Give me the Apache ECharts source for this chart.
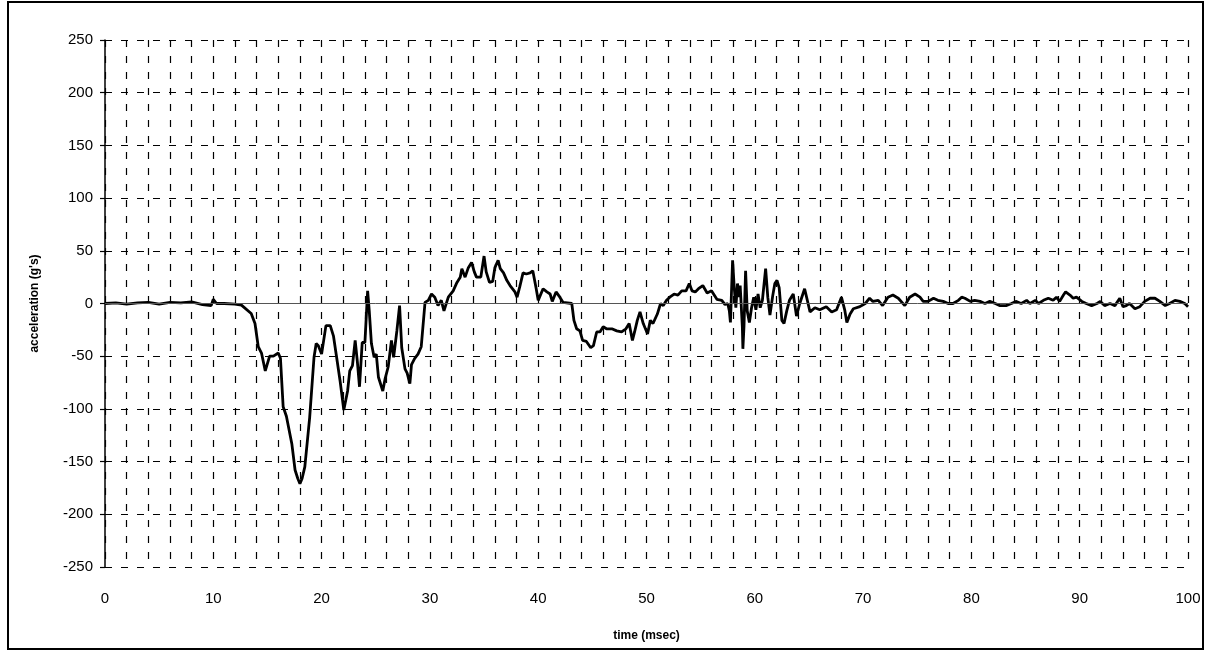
<!DOCTYPE html>
<html>
<head>
<meta charset="utf-8">
<title>acceleration vs time</title>
<script src="https://cdn.jsdelivr.net/npm/echarts@6/dist/echarts.min.js"></script>
<style>
  html, body { margin: 0; padding: 0; background: #fff; }
  #chart { width: 1210px; height: 653px; }
</style>
</head>
<body>
<div id="chart"></div>
<script>
// time axis of the trace (msec)
var timeMs = [
  0, 1, 2, 3, 4, 5, 6, 7, 8, 9,
  9.8, 10, 10.3, 11, 12, 12.6, 13.5, 13.85, 14.15, 14.45,
  14.8, 15.2, 15.55, 16.0, 16.2, 16.45, 16.75, 17.25, 17.55, 17.8,
  18.0, 18.2, 18.45, 18.9, 19.3, 19.5, 19.7, 20.0, 20.4, 20.8,
  21.1, 21.4, 21.7, 22.05, 22.4, 22.6, 22.85, 23.1, 23.3, 23.5,
  23.75, 24.0, 24.25, 24.4, 24.6, 24.85, 25.05, 25.25, 25.65, 25.85,
  26.15, 26.45, 26.65, 26.95, 27.2, 27.4, 27.7, 27.9, 28.15, 28.3,
  28.6, 28.9, 29.2, 29.55, 29.85, 30.15, 30.45, 30.75, 31.05, 31.3,
  31.7, 32.15, 32.5, 32.8, 32.95, 33.25, 33.55, 33.85, 34.1, 34.3,
  34.7, 35.0, 35.2, 35.5, 35.8, 36.0, 36.3, 36.5, 36.8, 37.1,
  37.4, 37.85, 38.05, 38.3, 38.6, 38.9, 39.25, 39.5, 39.8, 40.0,
  40.1, 40.45, 40.8, 41.1, 41.3, 41.65, 42.0, 42.3, 43.1, 43.3,
  43.55, 43.85, 44.1, 44.45, 44.85, 45.1, 45.4, 45.7, 46.0, 46.3,
  46.8, 47.25, 47.7, 48.1, 48.4, 48.7, 48.9, 49.15, 49.4, 49.7,
  50.1, 50.35, 50.6, 51.0, 51.3, 51.55, 51.85, 52.15, 52.55, 52.9,
  53.25, 53.65, 53.95, 54.2, 54.5, 54.8, 55.2, 55.6, 56.0, 56.5,
  56.95, 57.25, 57.5, 57.65, 57.75, 57.95, 58.1, 58.25, 58.4, 58.55,
  58.65, 58.85, 58.9, 59.0, 59.15, 59.3, 59.5, 59.7, 59.9, 60.1,
  60.3, 60.5, 60.7, 61.0, 61.2, 61.4, 61.65, 61.85, 62.05, 62.25,
  62.5, 62.7, 62.95, 63.2, 63.55, 63.85, 64.15, 64.6, 65.1, 65.55,
  66.0, 66.6, 67.1, 67.55, 68.0, 68.3, 68.5, 68.8, 69.1, 69.7,
  70.2, 70.6, 70.9, 71.4, 71.8, 72.3, 72.75, 73.25, 73.85, 74.3,
  74.8, 75.25, 75.55, 76.0, 76.5, 76.9, 77.4, 77.85, 78.3, 78.8,
  79.1, 79.4, 79.9, 80.3, 80.8, 81.25, 81.7, 82.2, 82.6, 83.2,
  83.7, 84.1, 84.6, 85.1, 85.4, 85.9, 86.2, 86.65, 87.1, 87.55,
  87.85, 88.15, 88.5, 88.7, 89.1, 89.4, 89.7, 90.2, 90.6, 91.1,
  91.6, 91.9, 92.3, 92.8, 93.25, 93.7, 94.0, 94.3, 94.6, 95.1,
  95.55, 96.0, 96.5, 96.95, 97.4, 97.9, 98.3, 98.8, 99.25, 99.7,
  100
];

// acceleration (g's), same order as timeMs
var accelG = [
  0, 0.5, -0.5, 0.5, 1, -0.5, 1, 0.5, 1.5, -1,
  -2, 4, 0, 0, -0.5, -1.5, -9.5, -19, -41, -47,
  -64, -50, -50, -47, -52, -98, -107, -133, -158, -166,
  -171, -166, -155, -108, -51, -38, -40, -48, -21, -21,
  -31, -52, -73, -101, -83, -64, -59, -35, -55, -79,
  -37, -37, 12, -7, -38, -51, -48, -70, -83, -72,
  -60, -35, -51, -26, -2, -42, -62, -66, -76, -58,
  -52, -48, -41, 1, 3, 9, 6, -2, 3, -7,
  6, 12, 20, 25, 33, 25, 34, 39, 30, 25,
  25, 45, 30, 20, 21, 34, 41, 33, 29, 22,
  17, 11, 6, 16, 29, 28, 29, 31, 15, 3,
  2, 14, 11, 9, 2, 11, 6, 1, 0, -16,
  -24, -26, -35, -36, -42, -40, -27, -27, -22, -24,
  -24, -26, -27, -24, -19, -35, -27, -16, -8, -19,
  -29, -16, -19, -10, 0, -2, 3, 6, 9, 8,
  12, 12, 19, 12, 11, 14, 17, 10, 12, 4,
  3, -1, 0, -7, -18, 41, 15, -4, 19, 6,
  17, -22, -43, -22, 31, -7, -18, -4, 6, -6,
  9, -4, 3, 33, 6, -11, 7, 19, 22, 15,
  -16, -19, -7, 3, 9, -12, 0, 14, -8, -4,
  -6, -3, -8, -6, 6, -6, -18, -10, -5, -3,
  0, 5, 2, 3, -2, 6, 8, 5, -2, 6,
  9, 6, 2, 2, 5, 3, 2, 0, 0, 3,
  6, 5, 2, 3, 2, 0, 2, 0, -2, -2,
  0, 2, 0, 3, 0, 3, 0, 3, 5, 3,
  6, 2, 8, 11, 8, 5, 6, 2, 0, -2,
  0, 2, -2, 0, -2, 5, -3, -2, 0, -5,
  -3, 2, 5, 5, 2, -2, 0, 3, 2, 0,
  -3
];

var xTicks = [0, 100, 10];     // min, max, step of labels
var yTicks = [-250, 250, 50];

var points = timeMs.map(function (t, i) { return [t, accelG[i]]; });

var dash = { color: '#000', width: 1.2, type: [7, 9] };

var chart = echarts.init(document.getElementById('chart'));
chart.setOption({
  backgroundColor: '#fff',
  animation: false,
  graphic: [{
    type: 'rect',
    shape: { x: 8, y: 2, width: 1195, height: 647 },
    style: { fill: 'none', stroke: '#000', lineWidth: 2 },
    silent: true
  }],
  grid: { left: 105, right: 22, top: 40, bottom: 86 },
  xAxis: {
    type: 'value',
    min: xTicks[0], max: xTicks[1], interval: xTicks[2],
    name: 'time (msec)',
    nameLocation: 'middle',
    nameGap: 63,
    nameTextStyle: { color: '#000', fontFamily: 'Liberation Sans', fontWeight: 'bold', fontSize: 12 },
    axisLine: { show: false },
    axisTick: { show: false },
    axisLabel: { color: '#000', fontFamily: 'Liberation Sans', fontSize: 15, margin: 24 },
    splitLine: { show: true, lineStyle: dash },
    minorTick: { show: false, splitNumber: 5 },
    minorSplitLine: { show: true, lineStyle: dash }
  },
  yAxis: {
    type: 'value',
    min: yTicks[0], max: yTicks[1], interval: yTicks[2],
    name: "acceleration (g's)",
    nameLocation: 'middle',
    nameGap: 64,
    nameRotate: 90,
    nameTextStyle: { color: '#000', fontFamily: 'Liberation Sans', fontWeight: 'bold', fontSize: 12 },
    axisLine: { show: true, onZero: false, lineStyle: { color: '#000', width: 1.5 } },
    axisTick: { show: true, length: 5, lineStyle: { color: '#000', width: 1.2 } },
    axisLabel: { color: '#000', fontFamily: 'Liberation Sans', fontSize: 15, margin: 12, padding: [6, 0, 0, 0] },
    splitLine: { show: true, lineStyle: dash }
  },
  series: [{
    type: 'line',
    data: points,
    symbol: 'none',
    smooth: false,
    lineStyle: { color: '#000', width: 2.8 },
    markLine: {
      silent: true,
      symbol: 'none',
      label: { show: false },
      lineStyle: { color: '#555', width: 1, type: 'solid' },
      data: [{ yAxis: 0 }]
    }
  }]
});
</script>
</body>
</html>
